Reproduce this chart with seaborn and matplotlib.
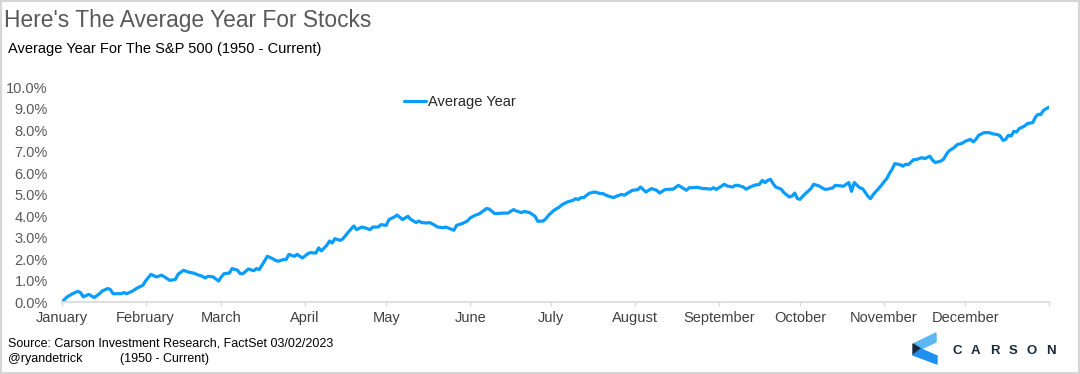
import pandas as pd
import matplotlib.pyplot as plt
import matplotlib.ticker as mticker
from matplotlib.patches import Polygon, Rectangle
import seaborn as sns

# Average S&P 500 path through the year (day of year, % return)
day_of_year = [
    0, 2, 4, 6, 7, 8, 10, 12, 14, 15, 17, 18, 19, 22, 23, 24, 26, 28, 30, 31,
    32, 33, 35, 37, 38, 40, 42, 43, 45, 47, 49, 50, 52, 53, 54, 56, 58, 59, 60, 62,
    63, 65, 66, 67, 69, 71, 72, 73, 74, 75, 76, 78, 79, 80, 82, 83, 84, 86, 87, 89,
    91, 92, 94, 95, 96, 98, 99, 100, 101, 103, 104, 106, 108, 109, 111, 112, 114, 115, 117, 118,
    120, 121, 123, 124, 126, 128, 129, 131, 132, 133, 135, 136, 138, 139, 141, 142, 144, 145, 146, 148,
    150, 151, 153, 154, 155, 157, 158, 160, 161, 163, 165, 167, 168, 170, 171, 173, 175, 176, 178, 179,
    180, 182, 184, 185, 187, 189, 190, 191, 192, 193, 195, 197, 198, 199, 200, 202, 204, 205, 207, 208,
    209, 211, 213, 214, 216, 218, 220, 221, 223, 225, 226, 228, 230, 231, 232, 233, 235, 237, 238, 240,
    241, 242, 243, 245, 246, 248, 249, 250, 252, 253, 254, 256, 258, 259, 260, 261, 262, 263, 264, 266,
    267, 269, 270, 271, 272, 273, 274, 275, 277, 278, 280, 282, 283, 285, 286, 288, 289, 291, 292, 293,
    295, 296, 297, 298, 299, 300, 302, 303, 304, 305, 306, 307, 308, 310, 311, 312, 313, 315, 316, 318,
    319, 320, 321, 322, 323, 325, 326, 327, 328, 330, 331, 333, 334, 336, 337, 338, 339, 341, 343, 344,
    346, 347, 348, 349, 350, 351, 352, 353, 354, 356, 357, 359, 360, 361, 362, 363, 365,
]
avg_return = [
    0.00, 0.25, 0.40, 0.51, 0.45, 0.25, 0.37, 0.22, 0.40, 0.53, 0.64, 0.59, 0.40, 0.40, 0.45, 0.40, 0.51, 0.67, 0.79, 0.99,
    1.15, 1.30, 1.18, 1.26, 1.18, 1.02, 1.06, 1.30, 1.49, 1.40, 1.35, 1.29, 1.21, 1.13, 1.21, 1.18, 0.99, 1.18, 1.33, 1.36,
    1.57, 1.49, 1.33, 1.33, 1.55, 1.47, 1.57, 1.52, 1.72, 1.92, 2.14, 2.03, 1.95, 1.91, 1.99, 1.99, 2.23, 2.14, 2.23, 2.06,
    2.26, 2.31, 2.29, 2.53, 2.39, 2.65, 2.85, 2.76, 2.96, 2.88, 2.96, 3.27, 3.55, 3.38, 3.50, 3.47, 3.38, 3.50, 3.50, 3.61,
    3.58, 3.85, 3.97, 4.06, 3.85, 4.00, 3.86, 3.71, 3.78, 3.71, 3.69, 3.71, 3.58, 3.50, 3.47, 3.50, 3.40, 3.35, 3.58, 3.66,
    3.78, 3.92, 4.06, 4.09, 4.17, 4.36, 4.34, 4.13, 4.13, 4.15, 4.15, 4.31, 4.25, 4.17, 4.23, 4.17, 4.00, 3.77, 3.78, 3.89,
    4.05, 4.28, 4.43, 4.54, 4.67, 4.74, 4.82, 4.78, 4.87, 4.87, 5.07, 5.13, 5.10, 5.06, 5.06, 4.94, 4.87, 4.93, 5.02, 4.98,
    5.06, 5.21, 5.24, 5.36, 5.13, 5.29, 5.21, 5.08, 5.24, 5.26, 5.26, 5.44, 5.29, 5.21, 5.33, 5.33, 5.35, 5.29, 5.29, 5.26,
    5.33, 5.25, 5.33, 5.49, 5.41, 5.36, 5.44, 5.44, 5.36, 5.26, 5.33, 5.44, 5.49, 5.67, 5.57, 5.67, 5.72, 5.52, 5.36, 5.26,
    5.10, 4.90, 4.94, 5.08, 4.82, 4.79, 4.94, 5.06, 5.29, 5.49, 5.41, 5.26, 5.26, 5.32, 5.44, 5.41, 5.40, 5.57, 5.16, 5.57,
    5.33, 5.29, 5.13, 4.94, 4.82, 5.01, 5.29, 5.44, 5.60, 5.75, 5.99, 6.19, 6.45, 6.40, 6.33, 6.42, 6.40, 6.64, 6.64, 6.73,
    6.68, 6.74, 6.79, 6.60, 6.50, 6.57, 6.65, 6.87, 7.04, 7.20, 7.33, 7.40, 7.49, 7.58, 7.46, 7.58, 7.77, 7.89, 7.89, 7.84,
    7.80, 7.73, 7.53, 7.58, 7.77, 7.73, 7.95, 7.92, 8.08, 8.20, 8.31, 8.36, 8.62, 8.74, 8.74, 8.93, 9.08,
]
months = ['January', 'February', 'March', 'April', 'May', 'June', 'July',
          'August', 'September', 'October', 'November', 'December']
y_ticks = [0, 1, 2, 3, 4, 5, 6, 7, 8, 9, 10]

sns.set_style('white')
plt.rcParams['font.family'] = ['Liberation Sans', 'DejaVu Sans']

start = pd.Timestamp('2023-01-01')
df = pd.DataFrame({'date': start + pd.to_timedelta(day_of_year, unit='D'),
                   'ret': avg_return})

W, H = 1080, 374
fig = plt.figure(figsize=(W / 100, H / 100), dpi=100)
fig.patches.append(Rectangle((0, 0), 1, 1, transform=fig.transFigure, fill=False,
                             edgecolor='#d6d6d6', linewidth=3))

ax = fig.add_axes([61.7 / W, 1 - 302.3 / H, 987.3 / W, 215 / H])
sns.lineplot(data=df, x='date', y='ret', ax=ax, color='#0A9CFF',
             linewidth=2.3, label='Average Year')

# axes
month_starts = pd.date_range('2023-01-01', '2024-01-01', freq='MS')
ax.set_xticks(month_starts)
ax.set_xticklabels(months + [''])
ax.set_xlim(month_starts[0], month_starts[-1])
ax.set_ylim(0, 10)
ax.set_yticks(y_ticks)
ax.yaxis.set_major_formatter(mticker.FuncFormatter(lambda v, p: f'{v:.1f}%'))
ax.set_xlabel('')
ax.set_ylabel('')
sns.despine(ax=ax, left=True)
ax.spines['bottom'].set_color('#d9d9d9')
ax.spines['bottom'].set_linewidth(1.2)
ax.tick_params(axis='x', bottom=True, length=3, width=1, color='#d9d9d9',
               labelsize=10.5, labelcolor='#404040', pad=3)
ax.tick_params(axis='y', length=0, labelsize=10.5, labelcolor='#595959', pad=10)

ax.legend(loc='center left', bbox_to_anchor=(0.3467, 0.933), frameon=False,
          fontsize=10.5, handlelength=1.5, handletextpad=0.15,
          borderpad=0, borderaxespad=0, labelcolor='#262626')

# titles and notes
fig.text(4 / W, 1 - 27 / H, "Here's The Average Year For Stocks", fontsize=16.4,
         color='#595959', va='baseline')
fig.text(8 / W, 1 - 53 / H, 'Average Year For The S&P 500 (1950 - Current)',
         fontsize=10.5, color='black', va='baseline')
fig.text(8 / W, 1 - 347 / H, 'Source: Carson Investment Research, FactSet 03/02/2023',
         fontsize=9, color='black', va='baseline')
fig.text(8 / W, 1 - 362 / H, '@ryandetrick', fontsize=9, color='black', va='baseline')
fig.text(120 / W, 1 - 362 / H, '(1950 - Current)', fontsize=9, color='black', va='baseline')

# Carson logo
def px(pts):
    return [(x / W, 1 - y / H) for x, y in pts]

fig.patches.append(Polygon(px([(913, 344), (936, 333), (936, 342), (921, 349)]),
                           closed=True, transform=fig.transFigure, color='#5BB8F5'))
fig.patches.append(Polygon(px([(913, 344), (921, 349), (913, 355)]),
                           closed=True, transform=fig.transFigure, color='#1B2A3A'))
fig.patches.append(Polygon(px([(913, 355), (921, 349), (937, 356), (937, 364)]),
                           closed=True, transform=fig.transFigure, color='#1E90F0'))
for i, letter in enumerate('CARSON'):
    fig.text((957 + i * 18.7) / W, 1 - 350.7 / H, letter, fontsize=9.5,
             fontweight='bold', color='#1B2A3A', ha='center', va='center')

fig.savefig('out.png', dpi=100)
